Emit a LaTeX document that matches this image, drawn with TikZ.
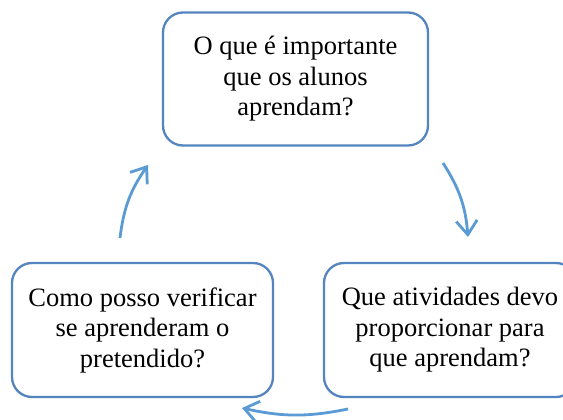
\documentclass[tikz,border=0pt]{standalone}
\usepackage{fontspec}
\setmainfont{Liberation Serif}
\usetikzlibrary{arrows.meta}
\definecolor{boxblue}{HTML}{5485C0}
\definecolor{arrowblue}{HTML}{5B9BD5}
\begin{document}
\begin{tikzpicture}[x=1pt,y=-1pt,
  stagebox/.style={draw=boxblue, line width=2.3pt, fill=white, rounded corners=20pt,
    align=center, inner sep=0pt,
    font=\fontsize{26.5pt}{30.5pt}\selectfont},
  cyclearrow/.style={draw=arrowblue, line width=2.8pt,
    -{Straight Barb[length=14pt,width=21pt]}}]
\useasboundingbox (0,0) rectangle (563,420);
\node[stagebox, minimum width=265pt, minimum height=133pt] (top) at (295.5,79)
  {O que é importante\\que os alunos\\aprendam?};
\node[stagebox, minimum width=261pt, minimum height=134pt] (left) at (142.5,330)
  {Como posso verificar\\se aprenderam o\\pretendido?};
\node[stagebox, minimum width=252pt, minimum height=134pt] (right) at (450,330)
  {Que atividades devo\\proporcionar para\\que aprendam?};
\coordinate (a1s) at (120,238);
\coordinate (a1e) at (148,165);
\coordinate (a2s) at (443,163);
\coordinate (a2e) at (468,237);
\coordinate (a3s) at (348,409);
\coordinate (a3e) at (242,408);
\draw[cyclearrow] (a1s) to[bend left=14] (a1e);
\draw[cyclearrow] (a2s) to[bend left=14] (a2e);
\draw[cyclearrow] (a3s) to[bend left=12] (a3e);
\end{tikzpicture}
\end{document}
